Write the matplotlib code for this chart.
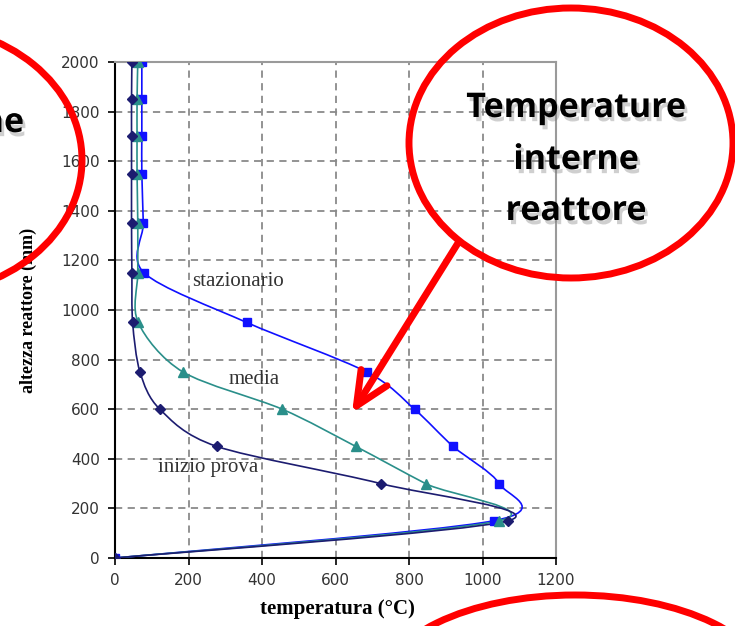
import numpy as np
import matplotlib
matplotlib.use("Agg")
import matplotlib.pyplot as plt
import matplotlib.patheffects as pe
from matplotlib.path import Path
from matplotlib.patches import PathPatch, Ellipse, FancyArrowPatch

# ---- data (altezza in mm, temperature in degC)
altezza = [2000, 1850, 1700, 1550, 1350, 1150, 950, 750, 600, 450, 300, 150, 0]
stazionario = [73, 73, 73, 73, 77, 79, 358, 685, 815, 920, 1045, 1030, 0]
media = [62, 60, 60, 60, 62, 62, 63, 185, 455, 655, 845, 1045, 0]
inizio_prova = [46, 45, 45, 45, 45, 46, 48, 68, 122, 277, 723, 1070, 0]

x_ticks = [0, 200, 400, 600, 800, 1000, 1200]
y_ticks = [0, 200, 400, 600, 800, 1000, 1200, 1400, 1600, 1800, 2000]

W, H = 735, 626
TENSION = 0.15  # a bit tighter than plain Catmull-Rom (1/6)


def smooth_path(xs, ys):
    """Excel-like smoothed line: Catmull-Rom segments as cubic beziers."""
    pts = np.column_stack([xs, ys]).astype(float)
    n = len(pts)
    verts = [pts[0]]
    codes = [Path.MOVETO]
    for i in range(n - 1):
        p0 = pts[i - 1] if i > 0 else pts[i]
        p1, p2 = pts[i], pts[i + 1]
        p3 = pts[i + 2] if i + 2 < n else pts[i + 1]
        verts += [p1 + (p2 - p0) * TENSION, p2 - (p3 - p1) * TENSION, p2]
        codes += [Path.CURVE4] * 3
    return Path(verts, codes)


fig = plt.figure(figsize=(W / 100, H / 100), dpi=100)
ax = fig.add_axes([115 / W, 68 / H, 441 / W, 496 / H])

series = [
    (stazionario, "#1010ff", "s", 6),
    (media, "#2a8f8a", "^", 6.5),
    (inizio_prova, "#1c1c70", "D", 5.5),
]
for vals, col, mk, ms in series:
    ax.add_patch(PathPatch(smooth_path(vals, altezza), facecolor="none",
                           edgecolor=col, lw=1.2, zorder=3))
    ax.plot(vals, altezza, linestyle="none", marker=mk, ms=ms, color=col,
            mec=col, zorder=4)

ax.set_xlim(0, 1200)
ax.set_ylim(0, 2000)
ax.set_xticks(x_ticks)
ax.set_yticks(y_ticks)
ax.grid(True, linestyle=(0, (4, 3)), color="#8a8a8a", lw=1.3, zorder=1)
ax.set_axisbelow(True)
ax.tick_params(direction="out", length=5, width=1.2, pad=6,
               labelsize=11, labelcolor="#333333")
for lab in ax.get_xticklabels() + ax.get_yticklabels():
    lab.set_family("DejaVu Sans")
for s in ["left", "bottom"]:
    ax.spines[s].set_linewidth(1.5)
    ax.spines[s].set_color("black")
for s in ["top", "right"]:
    ax.spines[s].set_linewidth(1.5)
    ax.spines[s].set_color("#9a9a9a")

serif = "Liberation Serif"
ax.set_xlabel("temperatura (°C)", family=serif, weight="bold", fontsize=15)
ax.set_ylabel("altezza reattore (mm)", family=serif, weight="bold", fontsize=13)
ax.xaxis.set_label_coords(0.505, -0.083)
ax.yaxis.set_label_coords(-0.177, 0.5)

ax.text(335, 1113, "stazionario", family=serif, fontsize=15, ha="center",
        va="center", color="#333333", zorder=5)
ax.text(380, 718, "media", family=serif, fontsize=15, ha="center",
        va="center", color="#333333", zorder=5)
ax.text(253, 363, "inizio prova", family=serif, fontsize=15, ha="center",
        va="center", color="#333333", zorder=5)

# ---- callout overlay in figure pixels (y down)
ov = fig.add_axes([0, 0, 1, 1], facecolor="none")
ov.set_xlim(0, W)
ov.set_ylim(H, 0)
ov.axis("off")
red = "#ff0000"
for cx, cy, ew, eh in [(571, 143, 324, 270), (-83, 160, 330, 270),
                       (575, 690, 390, 190)]:
    ov.add_patch(Ellipse((cx, cy), ew, eh, fill=False, edgecolor=red,
                         lw=5, clip_on=False))
ov.add_patch(FancyArrowPatch((458, 243), (352, 413),
                             arrowstyle="->,head_length=1.2,head_width=0.55",
                             mutation_scale=20, color=red, lw=5,
                             shrinkA=0, shrinkB=0,
                             capstyle="round", joinstyle="round"))

shadow = [pe.withSimplePatchShadow(offset=(2, -3), shadow_rgbFace="#777777",
                                   alpha=0.35)]
callout = dict(family="Open Sans", weight="bold", fontsize=24.5, color="black",
               va="center", path_effects=shadow)
ov.text(576, 108, "Temperature", ha="center", **callout)
ov.text(576, 160, "interne", ha="center", **callout)
ov.text(576, 211, "reattore", ha="center", **callout)
ov.text(24, 123, "esterne", ha="right", **callout)

fig.savefig("out.png", dpi=100)
